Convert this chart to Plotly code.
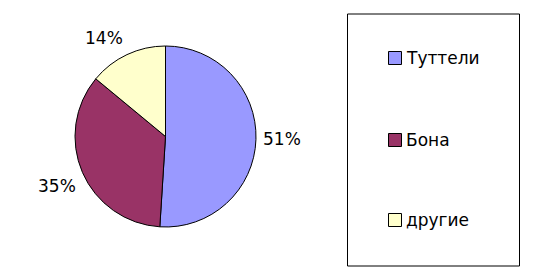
import math
import plotly.graph_objects as go

labels = ["Туттели", "Бона", "другие"]
values = [51, 35, 14]
colors = ["#9999FF", "#993366", "#FFFFCC"]

W, H = 540, 271

def px(x):
    return x / W

def py(y):
    return 1 - y / H

# pie placement (pixels)
PX0, PX1, PY0, PY1 = 75, 256, 46, 227
CX, CY = (PX0 + PX1) / 2, (PY0 + PY1) / 2
R = (PX1 - PX0) / 2

fig = go.Figure()
fig.add_trace(go.Pie(
    labels=labels,
    values=values,
    sort=False,
    direction="clockwise",
    rotation=0,
    marker=dict(colors=colors, line=dict(color="black", width=1)),
    textinfo="none",
    domain=dict(x=[px(PX0), px(PX1)], y=[py(PY1), py(PY0)]),
    showlegend=False,
    hoverinfo="label+percent",
))

annotations = []
# percent labels outside each slice, placed along the slice mid-angle
total = sum(values)
cum = 0
for v in values:
    mid = (cum + v / 2) / total * 2 * math.pi
    cum += v
    dx, dy = math.sin(mid), -math.cos(mid)
    x = CX + (R + 5) * dx
    y = CY + (R + 5) * dy
    xa = "left" if dx > 0.2 else ("right" if dx < -0.2 else "center")
    ya = "middle" if abs(dy) < 0.2 else ("top" if dy > 0 else "bottom")
    annotations.append(dict(text=f"{round(v / total * 100)}%", xref="paper", yref="paper",
                            x=px(x), y=py(y), xanchor=xa, yanchor=ya, showarrow=False,
                            font=dict(family="DejaVu Sans", size=17, color="black")))

shapes = [dict(type="rect", xref="paper", yref="paper",
               x0=px(347.5), x1=px(519.5), y0=py(266), y1=py(14),
               line=dict(color="black", width=1), fillcolor="rgba(0,0,0,0)")]
legend_y = [58, 140, 220]
for lab, col, yc in zip(labels, colors, legend_y):
    shapes.append(dict(type="rect", xref="paper", yref="paper",
                       x0=px(388.5), x1=px(401.5), y0=py(yc + 6.5), y1=py(yc - 6.5),
                       line=dict(color="black", width=1), fillcolor=col))
    annotations.append(dict(text=lab, xref="paper", yref="paper",
                            x=px(404), y=py(yc), xanchor="left", yanchor="middle",
                            showarrow=False,
                            font=dict(family="DejaVu Sans", size=17, color="black")))

fig.update_layout(
    width=W, height=H,
    margin=dict(l=0, r=0, t=0, b=0),
    paper_bgcolor="white",
    plot_bgcolor="white",
    shapes=shapes,
    annotations=annotations,
)

fig.write_html("out.html")
